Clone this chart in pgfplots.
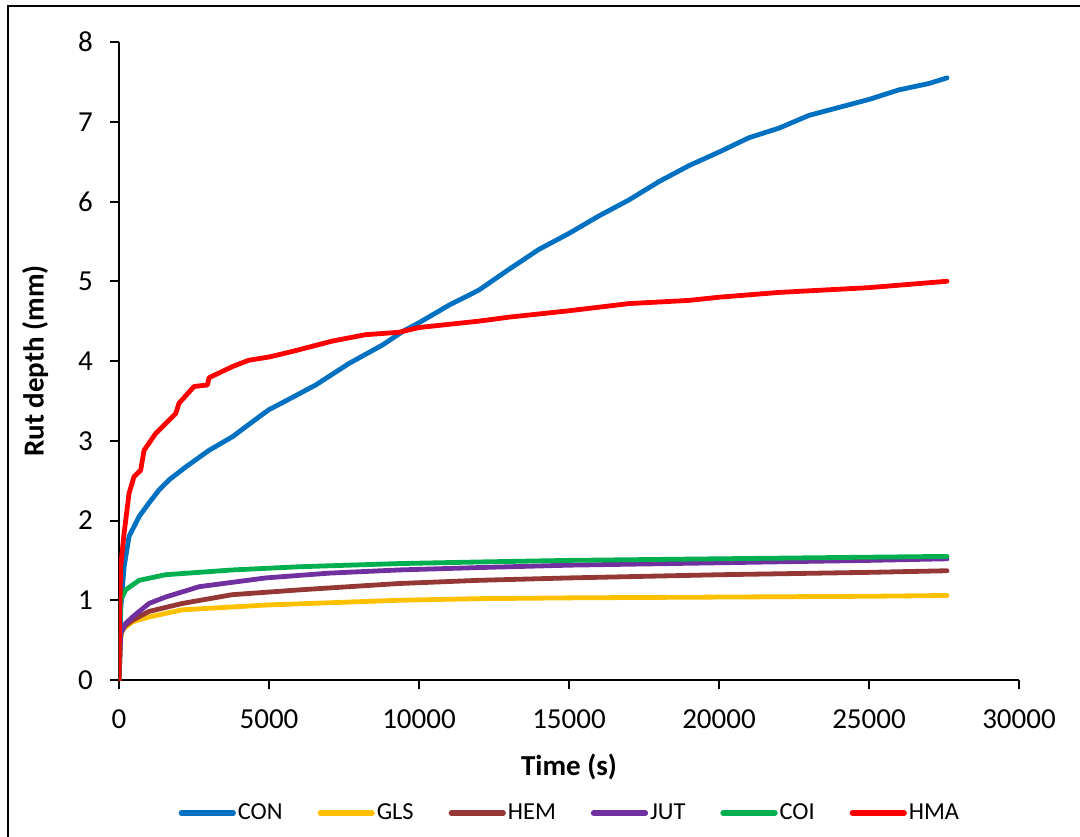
\documentclass[border=0pt]{standalone}
\usepackage{pgfplots}
\pgfplotsset{compat=1.18}
\usepackage{fontspec}
\setmainfont{Carlito}
\definecolor{cCON}{HTML}{0070C0}
\definecolor{cGLS}{HTML}{FFC000}
\definecolor{cHEM}{HTML}{953735}
\definecolor{cJUT}{HTML}{7030A0}
\definecolor{cCOI}{HTML}{00B050}
\definecolor{cHMA}{HTML}{FF0000}
\begin{document}
\begin{tikzpicture}
\begin{axis}[
  scale only axis, width=450pt, height=319pt,
  xmin=0, xmax=30000, ymin=0, ymax=8,
  axis lines=left,
  axis line style={-, line width=1pt},
  xtick={0,5000,...,30000}, ytick={0,1,...,8},
  tick align=outside, major tick length=4.5pt,
  tick style={line width=1pt, black},
  scaled x ticks=false,
  /pgf/number format/1000 sep={},
  /pgf/number format/assume math mode=true,
  tick label style={font=\fontsize{14.5}{16}\selectfont},
  yticklabel style={xshift=-5pt},
  xticklabel style={yshift=-7pt},
  xlabel={\textbf{Time (s)}},
  ylabel={\textbf{Rut depth (mm)}},
  label style={font=\fontsize{14.5}{17}\selectfont},
  xlabel style={at={(axis description cs:0.5,-0.1364)}, anchor=center},
  ylabel style={at={(axis description cs:-0.0933,0.5)}, anchor=center},
  every axis plot/.append style={line width=2.4pt, line cap=round, line join=round},
  legend columns=6,
  legend style={draw=none, at={(0.501,-0.2085)}, anchor=center,
    font=\fontsize{12.2}{14}\selectfont,
    /tikz/every even column/.append style={column sep=16.5pt},
    nodes={inner sep=1pt}},
  legend image code/.code={\draw[#1, line width=2.6pt, line cap=round] (0pt,0pt) -- (26pt,0pt);},
]
\addplot[cCON] coordinates {(0,0) (60,0.9) (170,1.42) (335,1.80) (670,2.05) (1000,2.22) (1330,2.38) (1670,2.51) (2220,2.67) (3000,2.88) (3780,3.05) (4670,3.30) (5000,3.39) (5560,3.50) (6560,3.70) (7670,3.97) (8780,4.20) (9500,4.38) (10000,4.48) (11000,4.70) (12000,4.89) (13000,5.15) (14000,5.40) (15000,5.60) (16000,5.82) (17000,6.02) (18000,6.25) (19000,6.45) (20000,6.62) (21000,6.80) (22000,6.92) (23000,7.08) (24000,7.18) (25000,7.28) (26000,7.40) (27000,7.48) (27600,7.55)};
\addlegendentry{CON}
\addplot[cGLS] coordinates {(0,0) (50,0.5) (110,0.63) (450,0.73) (1000,0.79) (2110,0.88) (4890,0.94) (9330,1.00) (12000,1.02) (15000,1.03) (20000,1.04) (25000,1.05) (27600,1.06)};
\addlegendentry{GLS}
\addplot[cHEM] coordinates {(0,0) (57,0.58) (200,0.68) (450,0.75) (1000,0.86) (2110,0.96) (3780,1.07) (6000,1.13) (9330,1.21) (12000,1.25) (15000,1.28) (20000,1.32) (25000,1.35) (27600,1.37)};
\addlegendentry{HEM}
\addplot[cJUT] coordinates {(0,0) (57,0.58) (200,0.70) (450,0.79) (1000,0.96) (1550,1.04) (2670,1.17) (4890,1.28) (7000,1.34) (9330,1.38) (12000,1.41) (15000,1.44) (20000,1.47) (25000,1.50) (27600,1.52)};
\addlegendentry{JUT}
\addplot[cCOI] coordinates {(0,0) (20,0.6) (57,1.0) (220,1.13) (670,1.25) (1550,1.32) (3780,1.38) (6000,1.42) (9330,1.46) (12000,1.48) (15000,1.50) (20000,1.52) (25000,1.54) (27600,1.55)};
\addlegendentry{COI}
\addplot[cHMA] coordinates {(0,0) (20,0.8) (57,1.42) (170,1.84) (335,2.34) (500,2.55) (722,2.63) (835,2.88) (1220,3.09) (1890,3.34) (2000,3.47) (2500,3.68) (2950,3.70) (3000,3.79) (3780,3.93) (4330,4.01) (5000,4.05) (5780,4.12) (7110,4.25) (8220,4.33) (9330,4.36) (10000,4.42) (12000,4.50) (13000,4.55) (15000,4.63) (17000,4.72) (19000,4.76) (20000,4.80) (22000,4.86) (25000,4.92) (27600,5.00)};
\addlegendentry{HMA}
\end{axis}
\draw[line width=1pt] (-55.5pt,-80pt) -- (-55.5pt,337pt) -- (482pt,337pt);
\pgfresetboundingbox
\useasboundingbox (-59.5pt,-78pt) rectangle (480.5pt,340pt);
\end{tikzpicture}
\end{document}
